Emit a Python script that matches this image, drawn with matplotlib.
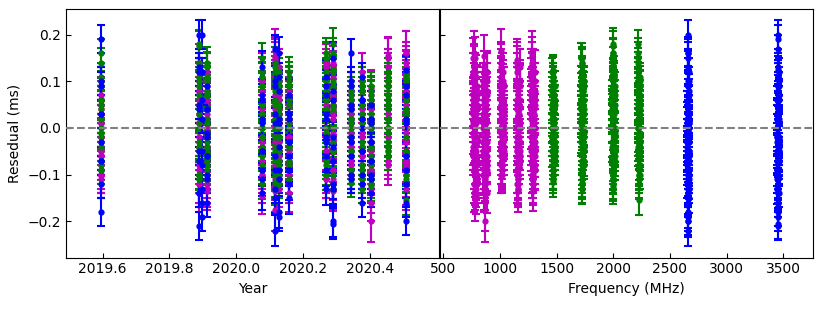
import numpy as np
import matplotlib
matplotlib.use('Agg')
import matplotlib.pyplot as plt

nan = float('nan')
NA = [nan] * 5

# observing epochs (year)
epochs = [2019.595, 2019.888, 2019.897, 2019.912, 2020.077, 2020.115, 2020.127,
          2020.157, 2020.269, 2020.291, 2020.343, 2020.376, 2020.403, 2020.454, 2020.508]

# sub-band frequencies (MHz)
freq_m1 = [764, 772, 780, 788, 796]
freq_m2 = [852, 860, 868, 876, 884]
freq_m3 = [1005, 1013, 1021, 1029, 1037]
freq_m4 = [1146, 1154, 1162, 1170, 1178]
freq_m5 = [1278, 1286, 1294, 1302, 1310]
freq_g1 = [1459, 1465, 1471, 1477, 1483]
freq_g2 = [1715, 1721, 1727, 1733, 1739]
freq_g3 = [1988, 1994, 2000, 2006, 2012]
freq_g4 = [2215, 2221, 2227, 2233, 2239]
freq_b1 = [2654, 2658, 2662, 2666, 2670]
freq_b2 = [3448, 3452, 3456, 3460, 3464]

# residuals (ms): one row per epoch, one column per sub-band
res_m1 = [[-0.05, 0.02, -0.10, 0.05, -0.11], [0.03, 0.14, -0.04, 0.08, -0.12], NA,
          [-0.04, 0.10, -0.135, 0.03, -0.08], [0.06, -0.02, 0.12, -0.145, -0.07],
          [0.05, -0.03, 0.15, -0.11, 0.09], [-0.06, 0.08, 0.01, -0.13, 0.04],
          [0.01, -0.14, 0.09, -0.06, 0.05], [0.12, 0.04, -0.03, -0.11, 0.07],
          [-0.01, 0.13, -0.12, 0.06, -0.07], [0.07, -0.09, 0.02, -0.03, 0.04],
          [0.04, -0.12, 0.12, -0.05, 0.08], [-0.05, 0.08, -0.16, 0.01, -0.10],
          [0.15, 0.03, 0.09, -0.08, -0.02], [0.05, 0.16, -0.10, 0.11, -0.03]]
res_m2 = [[-0.06, 0.03, -0.02, -0.10, 0.07], [0.10, -0.14, -0.02, 0.05, -0.08], NA,
          [0.00, 0.06, -0.12, -0.05, 0.10], [0.08, -0.10, 0.03, -0.04, 0.12],
          [-0.03, 0.155, -0.175, 0.06, -0.09], [0.02, -0.09, 0.10, 0.06, -0.03],
          [-0.05, 0.05, -0.12, 0.01, -0.08], [0.09, -0.02, -0.10, 0.04, -0.06],
          [0.03, -0.13, 0.07, -0.05, 0.12], [0.01, 0.05, -0.08, -0.04, 0.08],
          [-0.06, 0.08, -0.11, 0.02, -0.01], [-0.10, 0.06, -0.20, -0.03, -0.14],
          [0.09, -0.06, -0.02, 0.04, 0.12], [-0.03, 0.12, -0.13, 0.07, -0.07]]
res_m3 = [[0.04, -0.08, -0.02, 0.09, -0.05], [0.06, 0.11, -0.09, 0.01, -0.04], NA,
          [0.02, -0.06, 0.08, 0.12, -0.02], [-0.04, 0.10, -0.10, 0.04, 0.00],
          [0.04, 0.165, -0.08, 0.09, -0.02], [0.07, -0.05, 0.12, 0.02, 0.04],
          [0.03, 0.08, -0.07, -0.02, 0.05], [0.14, 0.05, -0.06, 0.09, 0.00],
          [-0.03, 0.11, -0.09, 0.05, 0.02], [-0.01, -0.10, 0.06, -0.05, 0.03],
          [0.05, -0.04, -0.09, 0.01, -0.06], [0.02, 0.085, -0.08, -0.03, 0.05],
          [0.06, 0.13, -0.04, 0.02, 0.09], [0.14, 0.04, -0.08, 0.10, -0.01]]
res_m4 = [[-0.03, 0.05, -0.10, 0.01, -0.06], [0.09, -0.12, 0.01, 0.05, -0.05], NA,
          [-0.02, 0.12, -0.13, 0.06, -0.07], [0.00, 0.06, -0.12, -0.05, 0.10],
          [0.06, 0.145, -0.135, -0.04, 0.10], [-0.04, 0.09, -0.11, 0.03, -0.07],
          [0.06, -0.02, -0.10, 0.02, -0.06], [-0.05, 0.10, -0.10, 0.04, 0.00],
          [0.05, 0.14, -0.11, -0.02, 0.09], [0.04, -0.10, -0.06, 0.00, -0.03],
          [0.02, 0.10, -0.10, -0.04, 0.06], [-0.04, 0.04, -0.13, -0.08, 0.00],
          [0.10, 0.00, -0.05, 0.05, 0.13], [-0.05, 0.13, -0.12, 0.06, 0.01]]
res_m5 = [[0.06, -0.04, -0.09, 0.01, 0.10], [0.03, 0.12, -0.10, -0.03, 0.08], NA,
          [0.04, -0.11, 0.09, -0.04, 0.00], [0.11, 0.02, -0.09, 0.06, -0.03],
          [0.00, 0.14, -0.12, 0.07, -0.06], [0.03, -0.10, 0.13, 0.08, -0.04],
          [-0.04, 0.07, -0.12, 0.02, -0.08], [0.13, 0.00, -0.11, 0.06, -0.05],
          [-0.05, 0.12, -0.135, 0.04, -0.09], [0.02, 0.08, -0.07, -0.02, 0.05],
          [-0.02, 0.09, -0.08, 0.03, 0.06], [0.07, -0.06, -0.12, 0.01, -0.09],
          [0.04, 0.155, -0.07, 0.10, 0.00], [0.08, 0.16, -0.09, 0.02, 0.12]]
res_g1 = [[0.02, 0.10, -0.09, 0.06, -0.04], [0.12, 0.01, -0.10, 0.07, -0.05], NA,
          [-0.03, 0.11, -0.11, 0.04, -0.07], [0.00, 0.09, -0.09, 0.05, -0.04],
          [-0.05, 0.10, -0.115, 0.02, 0.06], [0.08, 0.02, -0.07, -0.02, 0.05],
          [0.05, 0.12, -0.06, 0.00, 0.09], [0.03, -0.08, 0.11, 0.07, -0.03],
          [0.00, 0.125, -0.10, 0.06, -0.05], [-0.02, 0.07, -0.11, 0.02, -0.06],
          [0.09, 0.01, -0.09, 0.05, -0.04], [-0.03, 0.06, -0.10, 0.01, -0.07],
          [0.04, 0.11, -0.05, 0.07, 0.00], [-0.02, 0.09, -0.10, 0.04, -0.06]]
res_g2 = [[0.04, 0.09, -0.07, 0.00, 0.06], [0.05, 0.14, -0.11, -0.03, 0.10], NA,
          [0.02, 0.14, -0.09, 0.08, -0.04], [0.15, 0.03, -0.08, 0.09, -0.02],
          [-0.02, 0.12, -0.13, 0.05, -0.07], [0.00, 0.09, -0.10, 0.04, -0.05],
          [0.10, 0.01, -0.09, 0.06, -0.04], [0.04, 0.12, -0.07, 0.08, -0.01],
          [0.06, 0.15, -0.12, -0.03, 0.10], [0.01, 0.08, -0.117, -0.05, 0.04],
          [-0.03, 0.09, -0.13, 0.03, -0.08], [0.00, 0.07, -0.12, -0.06, 0.03],
          [0.06, 0.12, -0.04, 0.02, 0.09], [0.02, 0.10, -0.12, 0.06, -0.05]]
res_g3 = [[0.06, 0.16, -0.09, 0.11, -0.02], [0.03, 0.175, -0.10, 0.09, -0.04], NA,
          [0.04, 0.10, -0.08, -0.02, 0.07], [0.00, 0.11, -0.12, 0.05, -0.06],
          [0.02, 0.14, -0.10, 0.08, -0.04], [0.05, 0.12, -0.09, -0.02, 0.09],
          [-0.03, 0.09, -0.11, 0.03, -0.07], [0.07, 0.16, -0.10, 0.11, 0.00],
          [0.05, 0.18, -0.13, 0.12, -0.05], [0.00, 0.09, -0.10, 0.05, -0.05],
          [0.02, 0.08, -0.11, -0.04, 0.05], [-0.04, 0.08, -0.125, 0.02, -0.08],
          [0.02, 0.12, -0.06, 0.07, -0.01], [0.03, 0.11, -0.11, 0.07, -0.05]]
res_g4 = [[0.05, 0.14, -0.08, 0.09, -0.01], [0.04, 0.18, -0.11, 0.11, -0.04], NA,
          [0.01, 0.13, -0.10, 0.07, -0.05], [-0.02, 0.12, -0.09, 0.05, 0.02],
          [0.00, 0.13, -0.12, 0.06, -0.06], [-0.04, 0.10, -0.12, 0.03, -0.08],
          [0.02, 0.11, -0.08, 0.06, -0.03], [0.06, 0.15, -0.09, 0.10, -0.02],
          [0.04, 0.16, -0.12, 0.09, -0.05], [-0.03, 0.06, -0.09, 0.02, -0.06],
          [0.00, 0.10, -0.10, 0.05, -0.05], [0.01, 0.09, -0.11, -0.04, 0.05],
          [0.00, 0.10, -0.06, 0.05, -0.03], [-0.05, 0.12, -0.155, 0.04, -0.10]]
res_b1 = [[-0.03, 0.09, -0.12, 0.03, -0.07], [0.05, 0.20, -0.14, 0.12, -0.05],
          [-0.08, 0.12, -0.19, 0.02, -0.13], [-0.06, 0.04, -0.16, -0.01, -0.11],
          [0.02, 0.13, -0.11, 0.07, -0.05], [-0.09, 0.10, -0.22, 0.01, -0.15],
          [0.01, 0.16, -0.18, 0.08, -0.09], [-0.03, 0.07, -0.15, 0.02, -0.09],
          [-0.06, 0.09, -0.13, 0.02, -0.02], [-0.04, 0.15, -0.20, 0.06, -0.12],
          [0.05, 0.16, -0.10, -0.03, 0.10], [-0.05, 0.06, -0.16, 0.00, -0.10],
          [-0.07, 0.02, -0.14, -0.03, -0.10], NA, [-0.12, 0.09, -0.20, 0.01, -0.06]]
res_b2 = [[0.03, 0.19, -0.18, 0.10, -0.07], [-0.07, 0.13, -0.21, 0.04, -0.14],
          [0.06, 0.20, -0.16, 0.12, -0.05], [-0.02, 0.09, -0.10, 0.04, -0.06],
          [-0.05, 0.06, -0.14, 0.01, -0.09], [0.03, 0.17, -0.13, 0.09, -0.06],
          [-0.11, 0.11, -0.19, 0.02, -0.04], [-0.09, 0.03, -0.12, -0.03, -0.06],
          [0.03, 0.11, -0.09, 0.07, -0.03], [-0.13, 0.08, -0.205, -0.02, -0.07],
          [-0.02, 0.09, -0.11, 0.04, -0.06], [0.02, 0.11, -0.12, 0.06, -0.05],
          [-0.03, 0.05, -0.11, 0.01, -0.07], NA, [0.02, 0.125, -0.16, 0.07, -0.09]]

# uncertainties (ms), one per epoch
err_m1 = [0.04, 0.04, nan, 0.04, 0.04, 0.045, 0.04, 0.04, 0.04, 0.045, 0.04, 0.04, 0.04, 0.042, 0.047]
err_m2 = [0.04, 0.04, nan, 0.04, 0.04, 0.045, 0.04, 0.04, 0.04, 0.045, 0.04, 0.04, 0.043, 0.04, 0.045]
err_m3 = [0.04, 0.04, nan, 0.04, 0.04, 0.046, 0.04, 0.04, 0.04, 0.045, 0.04, 0.04, 0.04, 0.04, 0.045]
err_m4 = [0.04, 0.04, nan, 0.04, 0.04, 0.045, 0.04, 0.04, 0.04, 0.045, 0.04, 0.04, 0.04, 0.04, 0.045]
err_m5 = [0.04, 0.04, nan, 0.04, 0.04, 0.045, 0.04, 0.04, 0.04, 0.043, 0.04, 0.04, 0.04, 0.04, 0.047]
err_g1 = [0.03, 0.03, nan, 0.03, 0.03, 0.033, 0.03, 0.032, 0.03, 0.032, 0.03, 0.03, 0.03, 0.03, 0.03]
err_g2 = [0.03, 0.03, nan, 0.033, 0.032, 0.033, 0.03, 0.032, 0.03, 0.032, 0.03, 0.03, 0.03, 0.03, 0.03]
err_g3 = [0.03, 0.033, nan, 0.033, 0.032, 0.033, 0.03, 0.032, 0.033, 0.033, 0.03, 0.03, 0.032, 0.03, 0.03]
err_g4 = [0.032, 0.03, nan, 0.033, 0.032, 0.033, 0.03, 0.032, 0.033, 0.033, 0.03, 0.03, 0.03, 0.03, 0.031]
err_b1 = [0.03, 0.03, 0.03, 0.03, 0.035, 0.033, 0.035, 0.035, 0.035, 0.033, 0.03, 0.03, 0.03, nan, 0.03]
err_b2 = [0.03, 0.03, 0.03, 0.03, 0.035, 0.03, 0.03, 0.035, 0.035, 0.033, 0.03, 0.03, 0.03, nan, 0.03]

bands = [
    (freq_m1, res_m1, err_m1, 'm'), (freq_m2, res_m2, err_m2, 'm'),
    (freq_m3, res_m3, err_m3, 'm'), (freq_m4, res_m4, err_m4, 'm'),
    (freq_m5, res_m5, err_m5, 'm'),
    (freq_g1, res_g1, err_g1, 'g'), (freq_g2, res_g2, err_g2, 'g'),
    (freq_g3, res_g3, err_g3, 'g'), (freq_g4, res_g4, err_g4, 'g'),
    (freq_b1, res_b1, err_b1, 'b'), (freq_b2, res_b2, err_b2, 'b'),
]

fig = plt.figure(figsize=(8.3, 3.11), dpi=100)
ax1 = fig.add_axes([66/830, 53.5/311, 373/830, 248.3/311])
ax2 = fig.add_axes([440/830, 53.5/311, 373/830, 248.3/311], sharey=ax1)

kw = dict(fmt='o', ms=3.5, capsize=3, elinewidth=1.5, capthick=1.5, ls='none')
for freq, res, err, c in bands:
    r = np.array(res, dtype=float)
    e = np.repeat(np.array(err, dtype=float)[:, None], r.shape[1], axis=1)
    t = np.repeat(np.array(epochs)[:, None], r.shape[1], axis=1)
    f = np.tile(np.array(freq, dtype=float), (r.shape[0], 1))
    ok = ~np.isnan(r)
    ax1.errorbar(t[ok], r[ok], yerr=e[ok], color=c, **kw)
    ax2.errorbar(f[ok], r[ok], yerr=e[ok], color=c, **kw)

for ax in (ax1, ax2):
    ax.axhline(0, color='gray', ls='--', lw=1.5, zorder=5)
    ax.tick_params(direction='in', labelsize=10)

ax1.set_xlim(2019.49, 2020.608)
ax1.set_xticks([2019.6, 2019.8, 2020.0, 2020.2, 2020.4])
ax1.set_xticklabels(['2019.6', '2019.8', '2020.0', '2020.2', '2020.4'])
ax1.set_yticks([-0.2, -0.1, 0.0, 0.1, 0.2])
ax1.set_yticklabels(['\u22120.2', '\u22120.1', '0.0', '0.1', '0.2'])
ax1.set_xlabel('Year', fontsize=10)
ax1.set_ylabel('Resedual (ms)', fontsize=10)

ax2.set_xlim(471, 3762)
ax2.set_xticks([500, 1000, 1500, 2000, 2500, 3000, 3500])
ax2.set_xlabel('Frequency (MHz)', fontsize=10)
plt.setp(ax2.get_yticklabels(), visible=False)

fig.savefig('out.png', dpi=100)
